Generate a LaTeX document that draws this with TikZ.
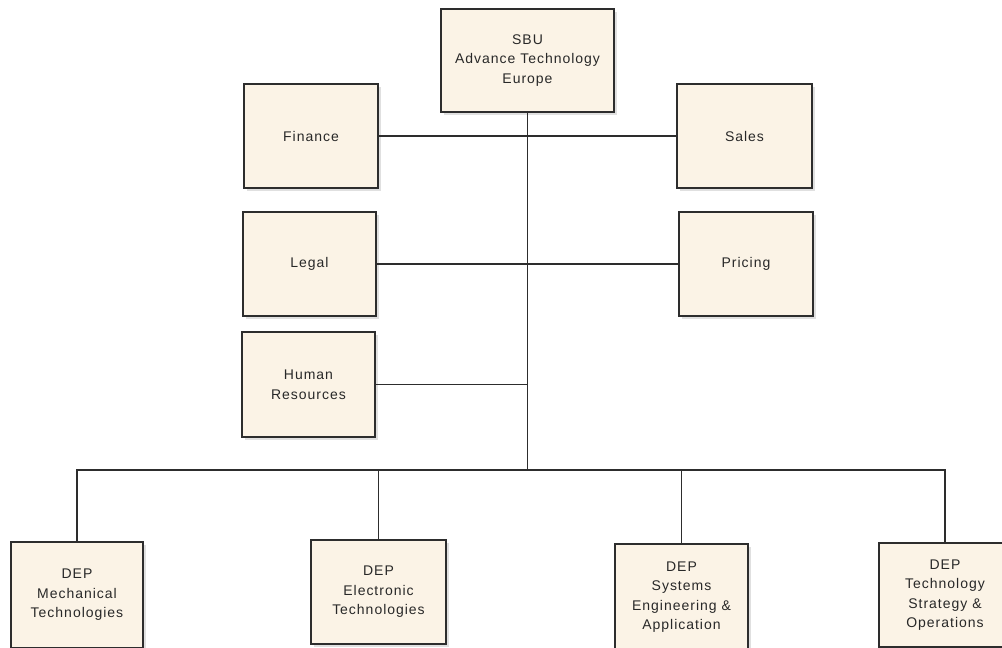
\documentclass[tikz,border=0pt]{standalone}
\usepackage{fontspec}
\setmainfont{Liberation Sans}[LetterSpace=7]
\usetikzlibrary{shadows}
\definecolor{boxfill}{RGB}{251,243,230}
\definecolor{edge}{RGB}{45,45,45}
\definecolor{ink}{RGB}{40,40,40}
\tikzset{
  unit/.style={draw=edge, line width=1.6pt, fill=boxfill, inner sep=0pt,
    align=center, text=ink, font=\fontsize{14}{19.5}\selectfont,
    drop shadow={shadow xshift=3pt, shadow yshift=-3pt, fill=black, opacity=0.12}},
  link/.style={draw=edge, line width=1.6pt}
}
\begin{document}
\begin{tikzpicture}[x=1pt, y=-1pt]
  \useasboundingbox (0,0) rectangle (1002,648);
  \fill[white] (0,0) rectangle (1002,648);
  \clip (0,0) rectangle (1002,648);

  % top unit and staff functions
  \node[unit, minimum width=173pt, minimum height=103pt] (sbu) at (527.5,60.5)
    {SBU\\Advance Technology\\Europe};
  \node[unit, minimum width=134pt, minimum height=104pt] (fin) at (311,136) {Finance};
  \node[unit, minimum width=135pt, minimum height=104pt] (sales) at (744.5,136) {Sales};
  \node[unit, minimum width=133pt, minimum height=104pt] (legal) at (309.5,264) {Legal};
  \node[unit, minimum width=134pt, minimum height=104pt] (pricing) at (746,264) {Pricing};
  \node[unit, minimum width=133pt, minimum height=105pt] (hr) at (308.5,384.5) {Human\\Resources};

  % departments
  \node[unit, minimum width=132pt, minimum height=106pt] (mech) at (77,595) {DEP\\Mechanical\\Technologies};
  \node[unit, minimum width=135pt, minimum height=104pt] (elec) at (378.5,592) {DEP\\Electronic\\Technologies};
  \node[unit, minimum width=133pt, minimum height=106pt] (sys) at (681.5,597) {DEP\\Systems\\Engineering \&\\Application};
  \node[unit, minimum width=132pt, minimum height=104pt] (tso) at (945,595) {DEP\\Technology\\Strategy \&\\Operations};

  % connectors
  \coordinate (bus) at (527.5,470);
  \draw[link] (sbu.south) -- (bus);
  \draw[link] (fin.east) -- (sales.west);
  \draw[link] (legal.east) -- (pricing.west);
  \draw[link] (hr.east) -- (hr.east -| sbu.south);
  \draw[link] (bus) -| (mech.north);
  \draw[link] (bus) -| (elec.north);
  \draw[link] (bus) -| (sys.north);
  \draw[link] (bus) -| (tso.north);
\end{tikzpicture}
\end{document}
